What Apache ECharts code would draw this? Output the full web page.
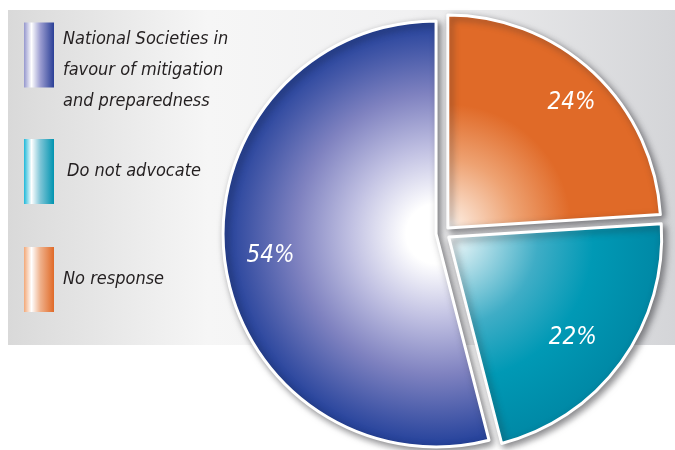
<!DOCTYPE html>
<html><head><meta charset="utf-8">
<script src="https://cdn.jsdelivr.net/npm/echarts@6/dist/echarts.min.js"></script>
<style>html,body{margin:0;padding:0;background:#fff}#c{width:675px;height:450px}</style>
</head><body><div id="c"></div>
<script>
// Data
const categories = ['No response', 'Do not advocate', 'National Societies in favour of mitigation and preparedness'];
const values = [24, 22, 54];
const legendNames = ['National Societies in favour of mitigation and preparedness', 'Do not advocate', 'No response'];
const legendLabels = ['\nNational Societies in\nfavour of mitigation\nand preparedness', 'Do not advocate', 'No response'];

const CX = 443, CY = 233, R = 213;
const font = '"Liberation Sans Narrow", "DejaVu Sans Condensed", "Roboto", sans-serif';

function radial(stops) {
  return { type: 'radial', x: CX, y: CY, r: R, global: true,
    colorStops: stops.map(s => ({ offset: s[0], color: s[1] })) };
}
function linear(stops) {
  return { type: 'linear', x: 0, y: 0, x2: 1, y2: 0,
    colorStops: stops.map(s => ({ offset: s[0], color: s[1] })) };
}
const sliceFill = {
  'No response': radial([[0, '#ffffff'], [0.06, '#fbe4d4'], [0.32, '#eea272'], [0.58, '#e06a28'], [1, '#e06a28']]),
  'Do not advocate': radial([[0, '#ffffff'], [0.06, '#dff1f5'], [0.42, '#3fadc6'], [0.68, '#0099b5'], [1, '#0088a5']]),
  'National Societies in favour of mitigation and preparedness': radial([[0, '#ffffff'], [0.14, '#ffffff'], [0.4, '#c0c0e2'], [0.66, '#7f82c0'], [1, '#22409a']])
};
const legendFill = {
  'National Societies in favour of mitigation and preparedness': linear([[0, '#9597cd'], [0.25, '#ffffff'], [0.55, '#9a9cd0'], [1, '#2a3f96']]),
  'Do not advocate': linear([[0, '#1fb8d8'], [0.25, '#ffffff'], [0.55, '#7cc4d6'], [1, '#0094b0']]),
  'No response': linear([[0, '#f2a878'], [0.25, '#ffffff'], [0.55, '#efb08a'], [1, '#e06a28']])
};
const legendTops = [-7, 139, 247];
const labelPads = {
  'No response': [10, 0, 0, 12],
  'Do not advocate': [0, 30, 0, 0],
  'National Societies in favour of mitigation and preparedness': [0, 0, 0, 10]
};

const chart = echarts.init(document.getElementById('c'));
const legends = legendNames.map((n, i) => ({
  orient: 'vertical', left: 24, top: legendTops[i], padding: 0,
  itemWidth: 30, itemHeight: 65, icon: 'rect', selectedMode: false,
  data: [{ name: n, itemStyle: { color: legendFill[n], borderWidth: 0 } }],
  formatter: () => legendLabels[i],
  textStyle: { fontFamily: font, fontStyle: 'italic', fontSize: 18, color: '#231f20',
    lineHeight: 31, padding: [0, 0, 0, i === 1 ? 8 : 4] }
}));

const mainData = categories.map((c, i) => ({
  name: c, value: values[i], selected: true,
  itemStyle: { color: sliceFill[c] }
}));
const labelData = categories.map((c, i) => ({ name: c, value: values[i], selected: true,
  label: { padding: labelPads[c] } }));

chart.setOption({
  animation: false,
  graphic: [{
    type: 'rect', left: 8, top: 10, z: -10, silent: true,
    shape: { width: 667, height: 335 },
    style: { fill: { type: 'linear', x: 0, y: 0, x2: 1, y2: 0, colorStops: [
      { offset: 0, color: '#d9d9d9' }, { offset: 0.3, color: '#f6f6f6' },
      { offset: 0.6, color: '#f1f1f2' }, { offset: 1, color: '#d4d5d8' }] } }
  }],
  legend: legends,
  series: [{
    type: 'pie', center: [CX, CY], radius: [0, R], startAngle: 90, clockwise: true,
    selectedMode: 'multiple', selectedOffset: 7,
    emphasis: { disabled: true },
    label: { show: false }, labelLine: { show: false },
    itemStyle: { borderColor: '#ffffff', borderWidth: 3,
      shadowColor: 'rgba(40,40,45,0.55)', shadowBlur: 7, shadowOffsetX: 3, shadowOffsetY: 3 },
    data: mainData
  }, {
    type: 'pie', center: [CX, CY], radius: [125, R], startAngle: 90, clockwise: true,
    selectedMode: 'multiple', selectedOffset: 7, silent: true,
    emphasis: { disabled: true },
    itemStyle: { color: 'rgba(0,0,0,0)', borderWidth: 0 },
    select: { itemStyle: { color: 'rgba(0,0,0,0)', borderWidth: 0 } },
    label: { show: true, position: 'inside', formatter: '{c}%', color: '#ffffff',
      fontFamily: font, fontStyle: 'italic', fontSize: 24 },
    labelLine: { show: false },
    data: labelData
  }]
});
</script></body></html>
